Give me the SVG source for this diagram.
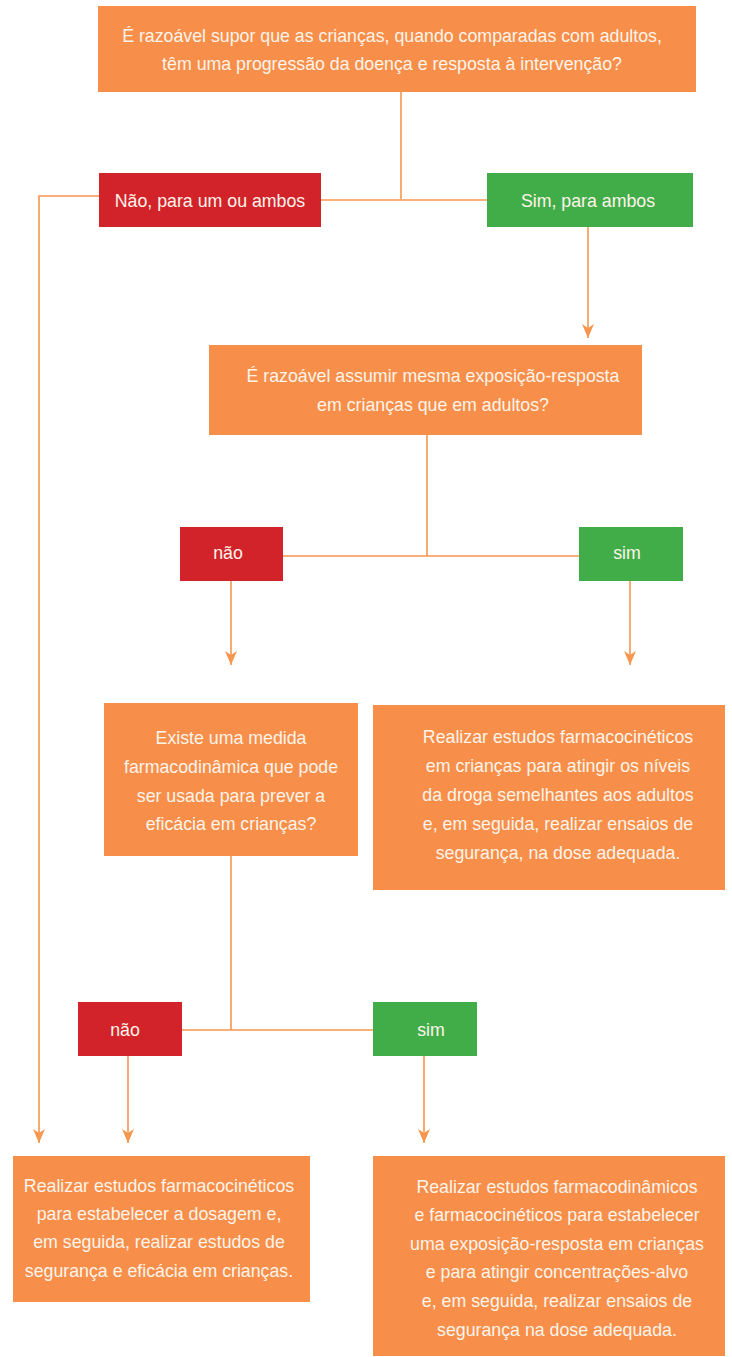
<svg xmlns="http://www.w3.org/2000/svg" width="732" height="1357" viewBox="0 0 732 1357">
<style>
.box{fill:#F78F4B}
.no{fill:#D2232A}
.yes{fill:#41AD49}
text{font-family:"Liberation Sans",Arial,sans-serif;font-size:19px;fill:#FFF4EA;text-anchor:middle}
.c{fill:none;stroke:#F7964E;stroke-width:1.6}
.a{marker-end:url(#arr)}
</style>
<defs>
<marker id="arr" markerUnits="userSpaceOnUse" viewBox="0 0 14 12" refX="14" refY="6" markerWidth="14" markerHeight="12" orient="auto">
<path d="M0,0 L14,6 L0,12 L4,6 z" fill="#F7964E"/>
</marker>
</defs>
<g id="connectors">
<path class="c" d="M401,92 V199"/>
<path class="c" d="M321,200 H487"/>
<path class="c a" d="M99,196 H39 V1143"/>
<path class="c a" d="M588,227 V338"/>
<path class="c" d="M427,435 V556"/>
<path class="c" d="M283,556 H579"/>
<path class="c a" d="M231,581 V665"/>
<path class="c a" d="M630,581 V665"/>
<path class="c" d="M231,856 V1030"/>
<path class="c" d="M182,1030 H373"/>
<path class="c a" d="M128,1056 V1143"/>
<path class="c a" d="M424,1056 V1143"/>
</g>
<g id="q1">
<rect class="box" x="98" y="6" width="598" height="86"/>
<text transform="translate(392,42) scale(0.935,1)">É razoável supor que as crianças, quando comparadas com adultos,</text>
<text transform="translate(392,70) scale(0.935,1)">têm uma progressão da doença e resposta à intervenção?</text>
</g>
<g id="no1">
<rect class="no" x="99" y="173" width="222" height="54"/>
<text transform="translate(210,207) scale(0.935,1)">Não, para um ou ambos</text>
</g>
<g id="yes1">
<rect class="yes" x="487" y="173" width="206" height="54"/>
<text transform="translate(588,207) scale(0.935,1)">Sim, para ambos</text>
</g>
<g id="q2">
<rect class="box" x="209" y="345" width="433" height="90"/>
<text transform="translate(433,382) scale(0.935,1)">É razoável assumir mesma exposição-resposta</text>
<text transform="translate(433,411) scale(0.935,1)">em crianças que em adultos?</text>
</g>
<g id="no2">
<rect class="no" x="180" y="527" width="103" height="54"/>
<text transform="translate(228,559) scale(0.935,1)">não</text>
</g>
<g id="yes2">
<rect class="yes" x="579" y="527" width="104" height="54"/>
<text transform="translate(627,559) scale(0.935,1)">sim</text>
</g>
<g id="q3">
<rect class="box" x="104" y="703" width="254" height="153"/>
<text transform="translate(231,744) scale(0.935,1)">Existe uma medida</text>
<text transform="translate(231,773) scale(0.935,1)">farmacodinâmica que pode</text>
<text transform="translate(231,802) scale(0.935,1)">ser usada para prever a</text>
<text transform="translate(231,830) scale(0.935,1)">eficácia em crianças?</text>
</g>
<g id="act1">
<rect class="box" x="373" y="705" width="352" height="185"/>
<text transform="translate(558,743) scale(0.935,1)">Realizar estudos farmacocinéticos</text>
<text transform="translate(558,772) scale(0.935,1)">em crianças para atingir os níveis</text>
<text transform="translate(558,801) scale(0.935,1)">da droga semelhantes aos adultos</text>
<text transform="translate(558,830) scale(0.935,1)">e, em seguida, realizar ensaios de</text>
<text transform="translate(558,859) scale(0.935,1)">segurança, na dose adequada.</text>
</g>
<g id="no3">
<rect class="no" x="78" y="1002" width="104" height="54"/>
<text transform="translate(125,1036) scale(0.935,1)">não</text>
</g>
<g id="yes3">
<rect class="yes" x="373" y="1002" width="104" height="54"/>
<text transform="translate(431,1036) scale(0.935,1)">sim</text>
</g>
<g id="act2">
<rect class="box" x="13" y="1156" width="297" height="146"/>
<text transform="translate(159,1192) scale(0.935,1)">Realizar estudos farmacocinéticos</text>
<text transform="translate(159,1220) scale(0.935,1)">para estabelecer a dosagem e,</text>
<text transform="translate(159,1248) scale(0.935,1)">em seguida, realizar estudos de</text>
<text transform="translate(159,1277) scale(0.935,1)">segurança e eficácia em crianças.</text>
</g>
<g id="act3">
<rect class="box" x="373" y="1156" width="352" height="200"/>
<text transform="translate(557,1193) scale(0.935,1)">Realizar estudos farmacodinâmicos</text>
<text transform="translate(557,1221) scale(0.935,1)">e farmacocinéticos para estabelecer</text>
<text transform="translate(557,1250) scale(0.935,1)">uma exposição-resposta em crianças</text>
<text transform="translate(557,1278) scale(0.935,1)">e para atingir concentrações-alvo</text>
<text transform="translate(557,1307) scale(0.935,1)">e, em seguida, realizar ensaios de</text>
<text transform="translate(557,1336) scale(0.935,1)">segurança na dose adequada.</text>
</g>
</svg>
